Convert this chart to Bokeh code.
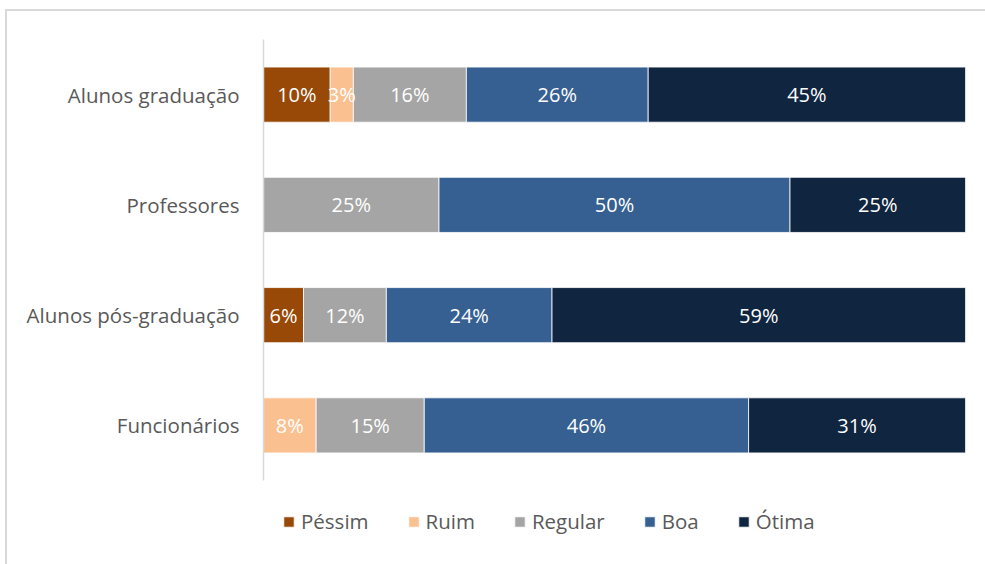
from bokeh.plotting import figure
from bokeh.layouts import column
from bokeh.models import ColumnDataSource, FactorRange, Legend, LegendItem, Range1d
from bokeh.core.properties import value
from bokeh.embed import file_html
from bokeh.resources import INLINE

categories = ["Alunos graduação", "Professores", "Alunos pós-graduação", "Funcionários"]
series = ["Péssim", "Ruim", "Regular", "Boa", "Ótima"]
colors = ["#984807", "#FAC090", "#A5A5A5", "#376092", "#10253F"]

pessim = [9.5, 0.0, 5.7, 0.0]
ruim = [3.3, 0.0, 0.0, 7.5]
regular = [16.1, 25.0, 11.8, 15.4]
boa = [25.9, 50.0, 23.6, 46.2]
otima = [45.2, 25.0, 58.9, 30.9]

FONT = "Open Sans"
TEXT_GREY = "#595959"

values = [pessim, ruim, regular, boa, otima]
data = {"cat": categories}
for name, vals in zip(series, values):
    data[name] = vals
source = ColumnDataSource(data)

# ---- main chart ----
p = figure(width=978, height=489,
           y_range=FactorRange(*reversed(categories)),
           x_range=Range1d(0, 100),
           output_backend="svg", toolbar_location=None,
           min_border_left=256, min_border_right=20,
           min_border_top=28, min_border_bottom=20)

renderers = p.hbar_stack(series, y="cat", height=0.5, color=colors,
                         line_color="white", line_width=0.8, source=source)

# data labels
lx, ly, lt = [], [], []
for i, cat in enumerate(categories):
    left = 0.0
    for vals in values:
        v = vals[i]
        if v > 0:
            lx.append(left + v / 2)
            ly.append(cat)
            lt.append(f"{int(v + 0.5)}%")
        left += v
p.text(x=lx, y=ly, text=lt, text_align="center", text_baseline="middle",
       text_color="white", text_font=value(FONT), text_font_size="20px")

p.xaxis.visible = False
p.xgrid.visible = False
p.ygrid.visible = False
p.outline_line_color = None
p.yaxis.axis_line_color = "#d9d9d9"
p.yaxis.axis_line_width = 1.5
p.yaxis.major_tick_line_color = None
p.yaxis.minor_tick_line_color = None
p.yaxis.major_label_text_font = FONT
p.yaxis.major_label_text_font_size = "20.5px"
p.yaxis.major_label_text_color = TEXT_GREY
p.yaxis.major_label_standoff = 18
p.y_range.range_padding = 0
p.y_range.group_padding = 0

# ---- legend strip ----
lg = figure(width=978, height=64, x_range=Range1d(0, 1), y_range=Range1d(0, 1),
            x_axis_location=None, y_axis_location=None,
            output_backend="svg", toolbar_location=None,
            min_border_left=256, min_border_right=20, min_border_top=0, min_border_bottom=0)
lg.xgrid.visible = False
lg.ygrid.visible = False
lg.outline_line_color = None
# legend proxies: one bar each, placed outside the visible range
proxy_src = ColumnDataSource(dict(y=[-5.0], left=[-5.0], right=[-4.0]))
proxies = [lg.hbar(y="y", left="left", right="right", height=0.5, color=c,
                   line_color="white", line_width=0.8, source=proxy_src)
           for c in colors]

legend = Legend(items=[LegendItem(label=s, renderers=[r]) for s, r in zip(series, proxies)],
                orientation="horizontal", location=(19, 28),
                glyph_width=13, glyph_height=13, label_height=30,
                label_standoff=6, spacing=38,
                label_text_font=FONT, label_text_font_size="20.5px",
                label_text_color=TEXT_GREY, border_line_color=None,
                background_fill_alpha=0, padding=0, margin=0)
lg.add_layout(legend)

layout = column(p, lg, spacing=0)
layout.styles = {"margin-left": "5px", "margin-top": "9px",
                 "border-left": "2px solid #d9d9d9", "border-top": "2px solid #d9d9d9"}

open("out.html", "w").write(file_html(layout, INLINE))
